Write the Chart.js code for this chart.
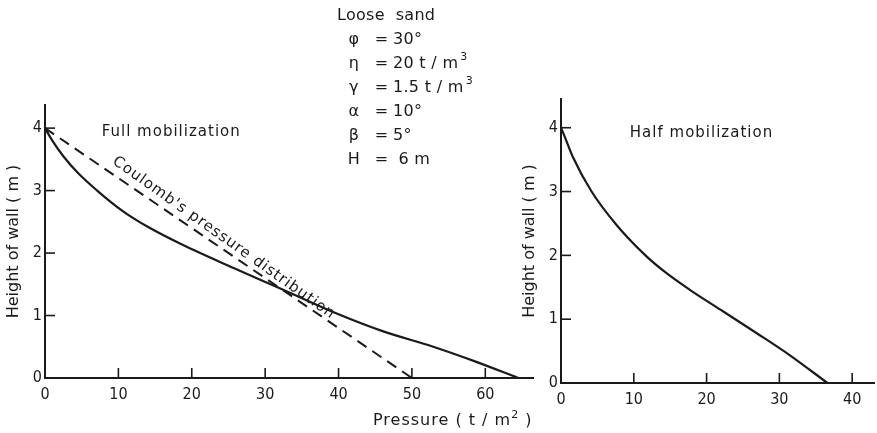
<!DOCTYPE html>
<html lang="en">
<head>
<meta charset="utf-8"/>
<title>Earth pressure on wall - loose sand</title>
<script src="https://cdn.jsdelivr.net/npm/chart.js"></script>
<style>
  body {
    margin: 0;
    background: #fff;
    font-family: 'DejaVu Sans', sans-serif;
    color: #1a1a1a;
  }
  .stage { position: relative; width: 877px; height: 433px; overflow: hidden; }
  .box { position: absolute; top: 0; height: 433px; }
  #boxFull { left: 0; width: 545px; }
  #boxHalf { left: 515px; width: 362px; }
  .params { position: absolute; left: 337px; top: 3px; font-size: 16px; line-height: 24px; letter-spacing: 0.3px; }
  .params .row { display: flex; height: 24px; }
  .params .sym { width: 32px; text-align: center; padding-left: 1px; }
  .params .eq { width: 23px; text-align: center; }
  .params sup { font-size: 11px; vertical-align: 0; position: relative; top: -8px; line-height: 0; margin-left: 2px; }
  .xtitle { position: absolute; left: 373px; top: 410px; font-size: 16px; letter-spacing: 1px; line-height: 20px; }
  .xtitle sup { font-size: 11px; vertical-align: 0; position: relative; top: -7px; line-height: 0; }
</style>
</head>
<body>
<div class="stage">
  <div class="box" id="boxFull"><canvas id="fullChart"></canvas></div>
  <div class="box" id="boxHalf"><canvas id="halfChart"></canvas></div>

  <div class="params">
    <div class="row">Loose&nbsp; sand</div>
    <div class="row"><span class="sym">φ</span><span class="eq">=</span><span>30°</span></div>
    <div class="row"><span class="sym">η</span><span class="eq">=</span><span>20 t / m<sup>3</sup></span></div>
    <div class="row"><span class="sym">γ</span><span class="eq">=</span><span>1.5 t / m<sup>3</sup></span></div>
    <div class="row"><span class="sym">α</span><span class="eq">=</span><span>10°</span></div>
    <div class="row"><span class="sym">β</span><span class="eq">=</span><span>5°</span></div>
    <div class="row"><span class="sym">H</span><span class="eq">=</span><span>&nbsp;6 m</span></div>
  </div>
  <div class="xtitle">Pressure ( t / m<sup>2</sup> )</div>
</div>

<script>
  // pressure (t/m2) against height of wall (m)
  const fullPressure = [0, 1, 2.5, 4.5, 7.1, 10.5, 14, 18.6, 25.7, 32.3, 40, 46, 52.9, 58.5, 64.5];
  const fullHeight   = [4, 3.8, 3.55, 3.28, 3.0, 2.68, 2.42, 2.14, 1.76, 1.42, 1.02, 0.75, 0.5, 0.27, 0];

  const coulombPressure = [0, 50];
  const coulombHeight   = [4, 0];

  const halfPressure = [0, 0.3, 1.6, 4.2, 7.6, 11.6, 14.5, 17.7, 22.3, 26.9, 31.5, 36.6];
  const halfHeight   = [4, 3.92, 3.55, 3.0, 2.48, 2.0, 1.72, 1.46, 1.12, 0.78, 0.43, 0];

  const fullXTicks = [0, 10, 20, 30, 40, 50, 60];
  const halfXTicks = [0, 10, 20, 30, 40];
  const heightTicks = [0, 1, 2, 3, 4];

  const ink = '#1a1a1a';
  const tickFamily = "'DejaVu Sans Condensed', 'Liberation Sans Narrow', 'DejaVu Sans', sans-serif";
  const textFamily = "'DejaVu Sans', sans-serif";
  Chart.defaults.font.family = tickFamily;
  Chart.defaults.color = ink;

  const pts = (xs, ys) => xs.map((x, i) => ({ x, y: ys[i] }));

  // short tick marks pointing into the plot
  const inwardTicks = {
    id: 'inwardTicks',
    afterDatasetsDraw(chart) {
      const { ctx, scales: { x, y } } = chart;
      ctx.save();
      ctx.strokeStyle = ink;
      ctx.lineWidth = 1.6;
      x.ticks.forEach(t => {
        if (t.value === 0) return;
        const px = x.getPixelForValue(t.value);
        ctx.beginPath(); ctx.moveTo(px, y.bottom); ctx.lineTo(px, y.bottom - 10); ctx.stroke();
      });
      y.ticks.forEach(t => {
        if (t.value === 0) return;
        const py = y.getPixelForValue(t.value);
        ctx.beginPath(); ctx.moveTo(x.left, py); ctx.lineTo(x.left + 10, py); ctx.stroke();
      });
      ctx.restore();
    }
  };

  // free text placed in data coordinates, optionally rotated along a segment
  const notes = {
    id: 'notes',
    afterDatasetsDraw(chart, args, opts) {
      const { ctx, scales: { x, y } } = chart;
      (opts.items || []).forEach(n => {
        ctx.save();
        ctx.font = `${n.size || 15}px ${textFamily}`;
        ctx.fillStyle = ink;
        ctx.textAlign = n.align || 'center';
        ctx.textBaseline = 'alphabetic';
        ctx.letterSpacing = '1px';
        const px = x.getPixelForValue(n.x), py = y.getPixelForValue(n.y);
        ctx.translate(px, py);
        if (n.along) {
          const [a, b] = n.along;
          const ang = Math.atan2(y.getPixelForValue(b[1]) - y.getPixelForValue(a[1]),
                                 x.getPixelForValue(b[0]) - x.getPixelForValue(a[0]));
          ctx.rotate(ang + (n.tilt || 0));
        }
        ctx.fillText(n.text, 0, 0);
        ctx.restore();
      });
    }
  };

  function axes(xMax, xTicks, yMax, yWidth, xHeight, titlePad) {
    return {
      x: {
        type: 'linear', min: 0, max: xMax,
        afterBuildTicks: s => { s.ticks = xTicks.map(v => ({ value: v })); },
        afterFit: s => { s.height = xHeight; },
        grid: { drawOnChartArea: false, drawTicks: false },
        border: { display: true, color: ink, width: 2 },
        ticks: { padding: 7, font: { size: 16 }, maxRotation: 0 }
      },
      y: {
        type: 'linear', min: 0, max: yMax,
        afterBuildTicks: s => { s.ticks = heightTicks.map(v => ({ value: v })); },
        afterFit: s => { s.width = yWidth; },
        grid: { drawOnChartArea: false, drawTicks: false },
        border: { display: true, color: ink, width: 2 },
        ticks: { padding: 3, font: { size: 16 } },
        title: {
          display: true, text: 'Height of wall ( m )',
          font: { size: 16, family: textFamily }, padding: { top: titlePad, bottom: 0 }
        }
      }
    };
  }

  new Chart(document.getElementById('fullChart'), {
    type: 'line',
    data: {
      datasets: [
        {
          label: 'Full mobilization',
          data: pts(fullPressure, fullHeight),
          borderColor: ink, borderWidth: 2.2, pointRadius: 0,
          cubicInterpolationMode: 'monotone'
        },
        {
          label: "Coulomb's pressure distribution",
          data: pts(coulombPressure, coulombHeight),
          borderColor: ink, borderWidth: 2, pointRadius: 0,
          borderDash: [11, 7]
        }
      ]
    },
    options: {
      responsive: true, maintainAspectRatio: false, animation: false,
      layout: { padding: { top: 105, right: 12, left: 0, bottom: 0 } },
      scales: axes(66.5, fullXTicks, 4.37, 45, 55, 4),
      plugins: {
        legend: { display: false }, tooltip: { enabled: false },
        notes: {
          items: [
            { text: 'Full mobilization', x: 17.2, y: 3.88, size: 15 },
            { text: "Coulomb's pressure distribution", x: 9.1, y: 3.44, size: 15, align: 'left',
              along: [[0, 4], [50, 0]], tilt: 0.02 }
          ]
        }
      }
    },
    plugins: [inwardTicks, notes]
  });

  new Chart(document.getElementById('halfChart'), {
    type: 'line',
    data: {
      datasets: [{
        label: 'Half mobilization',
        data: pts(halfPressure, halfHeight),
        borderColor: ink, borderWidth: 2.2, pointRadius: 0,
        cubicInterpolationMode: 'monotone'
      }]
    },
    options: {
      responsive: true, maintainAspectRatio: false, animation: false,
      layout: { padding: { top: 99, right: 3, left: 0, bottom: 0 } },
      scales: axes(43, halfXTicks, 4.45, 46, 50, 5),
      plugins: {
        legend: { display: false }, tooltip: { enabled: false },
        notes: { items: [{ text: 'Half mobilization', x: 19.3, y: 3.86, size: 15 }] }
      }
    },
    plugins: [inwardTicks, notes]
  });
</script>
</body>
</html>
